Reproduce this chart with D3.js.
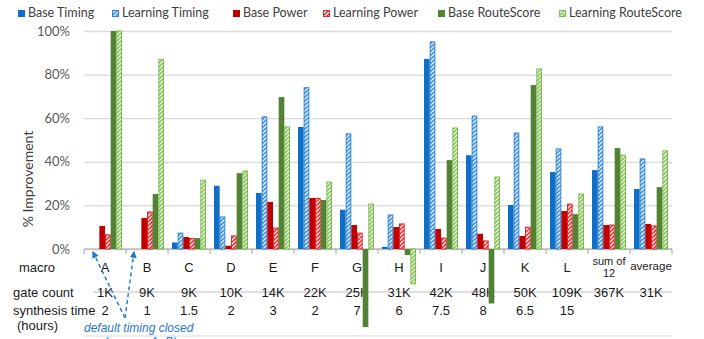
<!DOCTYPE html>
<html>
<head>
<meta charset="utf-8">
<script src="https://cdn.jsdelivr.net/npm/d3@7/dist/d3.min.js"></script>
<style>
  html, body { margin: 0; padding: 0; background: #fff; }
  svg { display: block; }
</style>
</head>
<body>
<svg id="chart" width="704" height="339"></svg>
<script>
// Macro names and the per-macro improvement figures (%)
const categories = ["A", "B", "C", "D", "E", "F", "G", "H", "I", "J", "K", "L", "sum of 12", "average"];
const seriesNames = ["Base Timing", "Learning Timing", "Base Power", "Learning Power", "Base RouteScore", "Learning RouteScore"];
const baseTiming        = [0, 0, 3, 29, 25.7, 56, 18, 1, 87.2, 43, 20.2, 35.3, 36.2, 27.5];
const learningTiming    = [0, 0, 7.3, 14.7, 60.6, 74, 52.8, 15.6, 95, 61, 53.2, 45.9, 56, 41.3];
const basePower         = [10.6, 14.2, 5.5, 1.5, 21.6, 23.4, 11, 10.1, 9.2, 7, 6, 17.4, 11, 11.5];
const learningPower     = [6.5, 17, 4.8, 6, 9.6, 23.2, 7.3, 11.5, 5, 3.7, 10, 20.6, 11, 10.6];
const baseRouteScore    = [100, 25.2, 5, 34.8, 69.7, 22.5, -35.8, -2.8, 40.8, -25, 75.2, 16, 46.3, 28.4];
const learningRouteScore = [100, 87, 31.6, 35.8, 56, 30.7, 20.6, -16, 55.5, 33, 82.6, 25.2, 43.1, 45];
const yTicks = [0, 20, 40, 60, 80, 100];

// Table rows under the axis
const gateCounts = ["1K", "9K", "9K", "10K", "14K", "22K", "25K", "31K", "42K", "48K", "50K", "109K", "367K", "31K"];
const synthesisHours = ["2", "1", "1.5", "2", "3", "2", "7", "6", "7.5", "8", "6.5", "15", "", ""];

const seriesValues = [baseTiming, learningTiming, basePower, learningPower, baseRouteScore, learningRouteScore];
const seriesColors = ["#0f6fc6", "#2f86d6", "#c00000", "#e0262a", "#548235", "#7cbf4c"];
const seriesHatched = [false, true, false, true, false, true];

const svg = d3.select("#chart");
const plotLeft = 84, plotRight = 672, plotTop = 31, zeroY = 249;

const x = d3.scaleBand().domain(categories).range([plotLeft, plotRight])
  .paddingInner(0.19).paddingOuter(0.095);
const xs = d3.scaleBand().domain(seriesNames).range([0, x.bandwidth()]);
const y = d3.scaleLinear().domain([0, 100]).range([zeroY, plotTop]);

// Hatch patterns for the "Learning" series
const defs = svg.append("defs");
seriesNames.forEach((name, i) => {
  if (!seriesHatched[i]) return;
  const p = defs.append("pattern")
    .attr("id", "hatch" + i)
    .attr("patternUnits", "userSpaceOnUse")
    .attr("width", 4).attr("height", 4);
  p.append("rect").attr("width", 4).attr("height", 4).attr("fill", seriesColors[i]);
  p.append("path")
    .attr("d", "M-1,1 l2,-2 M0,4 l4,-4 M3,5 l2,-2")
    .attr("stroke", "#fff").attr("stroke-width", 1.3);
});

// Gridlines and percentage labels
const yAxis = svg.append("g")
  .attr("transform", `translate(${plotLeft},0)`)
  .call(d3.axisLeft(y).tickValues(yTicks).tickFormat(d => d + "%")
    .tickSize(-(plotRight - plotLeft)).tickPadding(14));
yAxis.select(".domain").remove();
yAxis.selectAll(".tick line").attr("stroke", "#d9d9d9").attr("stroke-width", 1.3);
yAxis.selectAll(".tick text")
  .attr("font-family", "Lato, 'Open Sans', sans-serif")
  .attr("font-size", 13).attr("fill", "#595959");

svg.append("text")
  .attr("transform", "translate(33,179) rotate(-90)")
  .attr("text-anchor", "middle")
  .attr("font-family", "Lato, 'Open Sans', sans-serif")
  .attr("font-size", 14).attr("fill", "#404040")
  .text("% Improvement");

// Category axis line with separators between groups
const sepPositions = categories.map(c => x(c) - x.step() * x.paddingInner() / 2).concat([plotRight]);
svg.append("line")
  .attr("x1", plotLeft).attr("x2", plotRight).attr("y1", zeroY).attr("y2", zeroY)
  .attr("stroke", "#a6a6a6").attr("stroke-width", 1);
svg.selectAll(".sep").data(sepPositions).join("line")
  .attr("class", "sep")
  .attr("x1", d => d).attr("x2", d => d)
  .attr("y1", zeroY).attr("y2", zeroY + 5)
  .attr("stroke", "#a6a6a6");

// Table under the chart
const tableFont = "'Liberation Sans', Arial, sans-serif";
const rowY = { macro: 272, gate: 297, synth: 315, hours: 330 };
svg.append("line").attr("x1", 93).attr("x2", plotRight).attr("y1", 292).attr("y2", 292)
  .attr("stroke", "#bfbfbf");
svg.append("line").attr("x1", plotLeft).attr("x2", plotRight).attr("y1", 336).attr("y2", 336)
  .attr("stroke", "#d9d9d9");

const rowLabels = [
  { t: "macro", x: 37, y: rowY.macro, anchor: "middle" },
  { t: "gate count", x: 13, y: rowY.gate, anchor: "start" },
  { t: "synthesis time", x: 13, y: rowY.synth, anchor: "start" },
  { t: "(hours)", x: 17, y: rowY.hours, anchor: "start" }
];
svg.selectAll(".rowlab").data(rowLabels).join("text")
  .attr("class", "rowlab")
  .attr("x", d => d.x).attr("y", d => d.y)
  .attr("text-anchor", d => d.anchor)
  .attr("font-family", tableFont).attr("font-size", 13).attr("fill", "#1a1a1a")
  .text(d => d.t);

const cx = c => x(c) + x.bandwidth() / 2;
categories.forEach((c, i) => {
  const g = svg.append("g")
    .attr("font-family", tableFont).attr("fill", "#1a1a1a").attr("text-anchor", "middle");
  if (c === "sum of 12") {
    g.append("text").attr("x", cx(c)).attr("y", 265).attr("font-size", 11).text("sum of");
    g.append("text").attr("x", cx(c)).attr("y", 277).attr("font-size", 11).text("12");
  } else if (c === "average") {
    g.append("text").attr("x", cx(c)).attr("y", 270).attr("font-size", 11.5).text(c);
  } else {
    g.append("text").attr("x", cx(c)).attr("y", rowY.macro).attr("font-size", 13).text(c);
  }
  g.append("text").attr("x", cx(c)).attr("y", rowY.gate).attr("font-size", 13).text(gateCounts[i]);
  if (synthesisHours[i])
    g.append("text").attr("x", cx(c)).attr("y", rowY.synth).attr("font-size", 13).text(synthesisHours[i]);
});

// Note about macros that already close timing by default
const noteColor = "#1f77c9";
svg.append("text").attr("x", 84).attr("y", 332)
  .attr("font-family", tableFont).attr("font-size", 12).attr("font-style", "italic")
  .attr("fill", noteColor).text("default timing closed");
svg.append("text").attr("x", 104).attr("y", 346)
  .attr("font-family", tableFont).attr("font-size", 12).attr("font-style", "italic")
  .attr("fill", noteColor).text("(macros A, B)");
defs.append("marker").attr("id", "arrow")
  .attr("viewBox", "0 0 6 6").attr("refX", 5).attr("refY", 3)
  .attr("markerWidth", 5).attr("markerHeight", 5).attr("orient", "auto")
  .append("path").attr("d", "M0,0 L6,3 L0,6 Z").attr("fill", noteColor);
const arrowFrom = [125, 318];
[[x("A") + 5, zeroY + 3], [x("B") + 4, zeroY + 3]].forEach(pt => {
  svg.append("line")
    .attr("x1", arrowFrom[0]).attr("y1", arrowFrom[1])
    .attr("x2", pt[0]).attr("y2", pt[1])
    .attr("stroke", noteColor).attr("stroke-width", 1.4)
    .attr("stroke-dasharray", "4,3")
    .attr("marker-end", "url(#arrow)");
});

// Bars
const bars = svg.append("g");
seriesNames.forEach((name, si) => {
  bars.selectAll(".s" + si)
    .data(categories.map((c, i) => ({ c, v: seriesValues[si][i] })).filter(d => d.v !== 0))
    .join("rect")
    .attr("class", "s" + si)
    .attr("x", d => x(d.c) + xs(name) + (seriesHatched[si] ? 0.5 : 0))
    .attr("width", xs.bandwidth() - (seriesHatched[si] ? 1 : 0))
    .attr("y", d => y(Math.max(0, d.v)))
    .attr("height", d => Math.abs(y(d.v) - y(0)))
    .attr("fill", seriesHatched[si] ? `url(#hatch${si})` : seriesColors[si])
    .attr("stroke", seriesHatched[si] ? seriesColors[si] : "none")
    .attr("stroke-width", 1);
});

// Legend
const legendX = [18, 112, 233, 323, 438, 559];
const legend = svg.selectAll(".leg").data(seriesNames).join("g")
  .attr("class", "leg")
  .attr("transform", (d, i) => `translate(${legendX[i]},10)`);
legend.append("rect")
  .attr("x", (d, i) => seriesHatched[i] ? 0.5 : 0).attr("y", (d, i) => seriesHatched[i] ? 0.5 : 0)
  .attr("width", (d, i) => seriesHatched[i] ? 6 : 7).attr("height", (d, i) => seriesHatched[i] ? 6 : 7)
  .attr("fill", (d, i) => seriesHatched[i] ? `url(#hatch${i})` : seriesColors[i])
  .attr("stroke", (d, i) => seriesHatched[i] ? seriesColors[i] : "none");
legend.append("text")
  .attr("x", 10).attr("y", 7)
  .attr("font-family", "Lato, 'Open Sans', sans-serif")
  .attr("font-size", 12.5).attr("fill", "#404040")
  .text(d => d);
</script>
</body>
</html>
